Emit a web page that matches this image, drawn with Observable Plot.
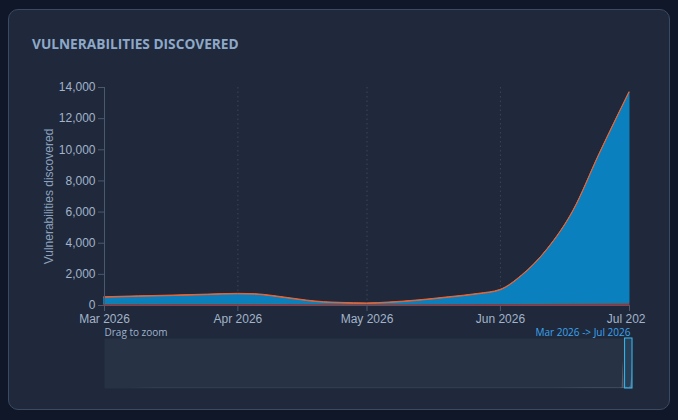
<!DOCTYPE html>
<html><head><meta charset="utf-8">
<script src="https://cdn.jsdelivr.net/npm/d3@7"></script>
<script src="https://cdn.jsdelivr.net/npm/@observablehq/plot@0.6"></script>
<style>
html,body{margin:0;padding:0;background:#0f1729;}
body{padding:9px 8px 0 8px;width:678px;height:420px;box-sizing:border-box;overflow:hidden;}
.card{box-sizing:border-box;width:662px;height:401px;background:#1f293b;border:1px solid #3a4a62;border-radius:10px;padding:23px 23px 0 23px;overflow:hidden;}
.title{font-family:"Open Sans",sans-serif;font-weight:700;font-size:13.7px;line-height:22px;color:#8ea8c8;height:22px;margin:0 0 12px 0;white-space:nowrap;}
svg{display:block;}
#main svg [aria-label^="x-axis"] line, #main svg [aria-label^="x-axis"] path,
#main svg [aria-label^="y-axis"] line, #main svg [aria-label^="y-axis"] path{stroke:#4a5870;}
#main svg [aria-label="y-axis label"] text, #main svg [aria-label="y-axis label"]{fill:#8ea2bd;}
</style></head>
<body>
<div class="card">
  <div class="title">VULNERABILITIES DISCOVERED</div>
  <div id="main"></div>
  <div id="mini"></div>
</div>
<script>
// ---- main chart data ----
const dates = ["2026-03-01","2026-03-09","2026-03-17","2026-03-25","2026-04-01","2026-04-05","2026-04-09","2026-04-13","2026-04-17","2026-04-21","2026-04-25","2026-05-01","2026-05-06","2026-05-13","2026-05-20","2026-05-27","2026-06-01","2026-06-06","2026-06-12","2026-06-18","2026-06-24","2026-07-01"];
const critical = [90,90,95,95,100,100,100,95,90,85,80,80,80,85,90,95,100,110,120,125,130,135];
const low      = [40,40,35,35,30,30,30,25,20,20,15,15,15,15,15,15,15,15,15,15,15,15];
const medium   = [365,425,475,535,585,565,455,315,175,75,40,5,60,195,390,605,850,1760,3460,5925,9520,13515];
const high     = [35,35,35,35,35,35,35,35,35,35,35,35,35,35,35,35,35,35,35,35,35,35];
const seriesNames = ["Critical","Low","Medium","High"];
const seriesColors = ["#b3282d","#1e8c8a","#0a80be","#e0663b"];
const seriesValues = [critical, low, medium, high];
const xDomain = ["2026-03-01","2026-07-01"];
const monthTicks = ["2026-03-01","2026-04-01","2026-05-01","2026-06-01","2026-07-01"];
const gridMonths = ["2026-04-01","2026-05-01","2026-06-01"];
const yTicks = [0,2000,4000,6000,8000,10000,12000,14000];
const yLabel = "Vulnerabilities discovered";

// ---- minimap data ----
const miniDates = ["2002-09-01","2003-09-01","2005-01-01","2006-06-01","2008-01-01","2009-06-01","2011-01-01","2012-06-01","2014-01-01","2015-06-01","2017-01-01","2018-06-01","2020-01-01","2021-06-01","2023-01-01","2024-06-01","2025-06-01","2025-12-20","2026-01-12","2026-01-28","2026-02-12","2026-02-20","2026-03-01","2026-04-01","2026-05-01","2026-06-01","2026-06-20","2026-07-01"];
const miniValues = [0,60,90,120,100,110,90,100,120,130,150,140,160,170,180,200,220,300,500,13400,500,300,600,650,300,1100,6000,13700];
const miniDomain = ["2002-09-01","2026-07-01"];
const selection = {from:"2026-03-01", to:"2026-07-01", label:"Mar 2026 -> Jul 2026"};
const hint = "Drag to zoom";

const P = d3.utcParse("%Y-%m-%d");
const rows = [];
seriesNames.forEach((s, i) => dates.forEach((d, j) => rows.push({series: s, date: P(d), value: seriesValues[i][j]})));

const main = Plot.plot({
  width: 614, height: 261,
  marginTop: 20, marginRight: 17, marginBottom: 23, marginLeft: 72,
  style: {background: "transparent", color: "#a3b3c9", fontFamily: "'Liberation Sans', Arial, sans-serif", fontSize: "12px", overflow: "hidden"},
  x: {type: "utc", domain: xDomain.map(P), ticks: monthTicks.map(P), tickFormat: d3.utcFormat("%b %Y"), label: null, tickSize: 6},
  y: {domain: [0, 14000], ticks: yTicks, tickFormat: d3.format(","), label: yLabel, labelAnchor: "center", labelOffset: 60, labelArrow: "none", tickSize: 6},
  color: {domain: seriesNames, range: seriesColors},
  marks: [
    Plot.ruleX(gridMonths.map(P), {stroke: "#3a4759", strokeDasharray: "1.5,3"}),
    Plot.areaY(rows, {x: "date", y: "value", z: "series", fill: "series", stroke: "series", strokeWidth: 1, curve: "monotone-x", order: seriesNames}),
    Plot.ruleX([P(xDomain[0])], {stroke: "#4a5870"}),
    Plot.ruleY([0], {stroke: "#4a5870"})
  ]
});
document.getElementById("main").appendChild(main);

const miniRows = miniDates.map((d, i) => ({date: P(d), value: miniValues[i]}));
const mini = Plot.plot({
  width: 614, height: 62,
  marginTop: 10, marginRight: 14, marginBottom: 2, marginLeft: 72,
  style: {background: "transparent", overflow: "visible", fontFamily: "'Open Sans', sans-serif", fontSize: "10px"},
  x: {type: "utc", domain: miniDomain.map(P), axis: null},
  y: {domain: [0, 24000], axis: null},
  marks: [
    Plot.frame({fill: "#273245", stroke: "none"}),
    Plot.areaY(miniRows, {x: "date", y: "value", fill: "#7d8899", fillOpacity: 0.5}),
    Plot.rect([selection], {x1: d => P(d.from), x2: d => P(d.to), fill: "#38bdf8", fillOpacity: 0.1, stroke: "#38bdf8", strokeWidth: 1}),
    Plot.text([hint], {frameAnchor: "top-left", dy: -10, fill: "#9fb3cc", textAnchor: "start"}),
    Plot.text([selection.label], {frameAnchor: "top-right", dx: -2, dy: -10, fill: "#3ba4f0", textAnchor: "end"})
  ]
});
document.getElementById("mini").appendChild(mini);
</script>
</body></html>
